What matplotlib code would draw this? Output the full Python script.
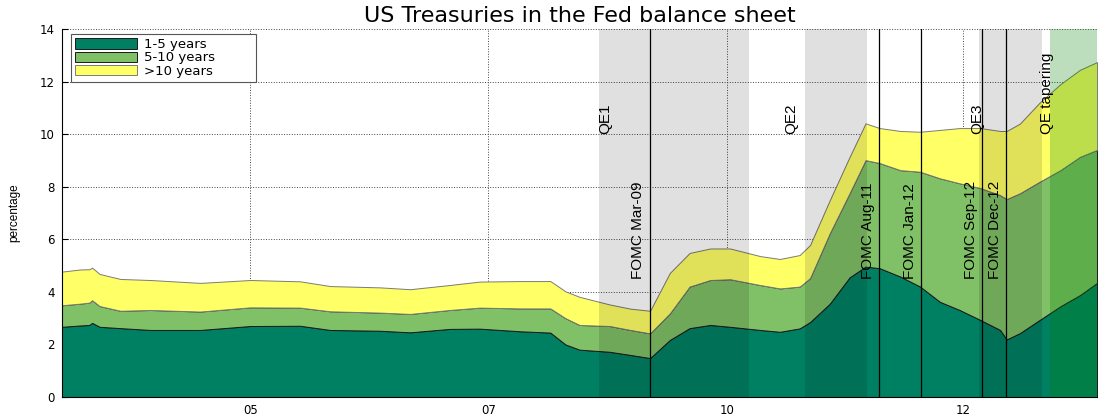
import numpy as np
from matplotlib import pyplot as plt

# holdings by maturity bucket, percent of the total
dates = [2003.00, 2003.19, 2003.29, 2003.32, 2003.40, 2003.62, 2003.94, 2004.47,
         2005.00, 2005.53, 2005.85, 2006.38, 2006.70, 2007.12, 2007.44, 2007.87,
         2008.19, 2008.35, 2008.50, 2008.82, 2009.04, 2009.25, 2009.46, 2009.67,
         2009.89, 2010.10, 2010.42, 2010.63, 2010.84, 2010.95, 2011.16, 2011.37,
         2011.54, 2011.69, 2011.91, 2012.12, 2012.33, 2012.54, 2012.76, 2012.97,
         2013.04, 2013.18, 2013.39, 2013.61, 2013.82, 2014.00]

years_1_5 = [2.67, 2.72, 2.74, 2.82, 2.67, 2.62, 2.55, 2.55,
             2.70, 2.71, 2.55, 2.52, 2.46, 2.59, 2.60, 2.50,
             2.45, 2.00, 1.80, 1.72, 1.60, 1.48, 2.17, 2.62,
             2.74, 2.67, 2.55, 2.48, 2.61, 2.85, 3.55, 4.55,
             4.96, 4.90, 4.58, 4.20, 3.62, 3.31, 2.93, 2.55,
             2.19, 2.43, 2.93, 3.45, 3.88, 4.34]

years_5_10 = [0.82, 0.83, 0.85, 0.86, 0.79, 0.66, 0.76, 0.70,
              0.71, 0.69, 0.71, 0.69, 0.70, 0.72, 0.80, 0.87,
              0.92, 1.00, 0.94, 0.98, 0.95, 0.94, 1.01, 1.58,
              1.71, 1.81, 1.71, 1.65, 1.59, 1.67, 2.68, 3.20,
              4.05, 4.00, 4.05, 4.37, 4.70, 4.82, 5.02, 5.13,
              5.34, 5.32, 5.26, 5.18, 5.26, 5.06]

years_10_plus = [1.28, 1.30, 1.27, 1.24, 1.22, 1.21, 1.14, 1.09,
                 1.04, 1.00, 0.96, 0.96, 0.94, 0.95, 0.99, 1.04,
                 1.04, 1.02, 1.07, 0.82, 0.81, 0.86, 1.54, 1.28,
                 1.20, 1.17, 1.10, 1.12, 1.20, 1.26, 1.26, 1.38,
                 1.40, 1.33, 1.49, 1.52, 1.84, 2.10, 2.28, 2.44,
                 2.59, 2.65, 3.01, 3.27, 3.31, 3.34]

series_names = ["1-5 years", "5-10 years", ">10 years"]
colors = ["#008062", "#80c066", "#ffff66"]

# purchase programmes (shaded) and FOMC guidance dates (lines)
qe_spans = [(2008.71, 2010.30), (2010.90, 2011.56), (2012.745, 2013.41)]
qe_names = ["QE1", "QE2", "QE3"]
qe_label_x = [2008.77, 2010.75, 2012.73]
taper_span = (2013.50, 2014.0)
fomc_dates = [2009.245, 2011.68, 2012.13, 2012.777, 2013.03]
fomc_names = ["FOMC Mar-09", "FOMC Aug-11", "FOMC Jan-12", "FOMC Sep-12", "FOMC Dec-12"]

tick_pos = [2005.0, 2007.53, 2010.07, 2012.58]
tick_names = ["05", "07", "10", "12"]

lab_font = "Liberation Sans"

fig = plt.figure(figsize=(10.99, 4.17), dpi=100)
ax = fig.add_axes([0.0564, 0.048, 0.9418, 0.8825])

polys = ax.stackplot(dates, years_1_5, years_5_10, years_10_plus,
                     colors=colors, labels=series_names, zorder=2)
edge_cols = ["#1a1a1a", "#1a1a1a", "#7a7a7a"]
for p, ec in zip(polys, edge_cols):
    p.set_edgecolor(ec)
    p.set_linewidth(0.7)

for a, b in qe_spans:
    ax.axvspan(a, b, color="k", alpha=0.12, lw=0, zorder=3)
ax.axvspan(taper_span[0], taper_span[1], color=(0, 0.5, 0), alpha=0.26, lw=0, zorder=3)

for d in fomc_dates:
    ax.axvline(d, color="k", lw=0.9, zorder=4)

for d, name in zip(fomc_dates, fomc_names):
    ax.annotate(name, (d, 4.5), xytext=(-3, 0), textcoords="offset points",
                rotation=90, ha="right", va="bottom", fontsize=11,
                family=lab_font, zorder=5)

for x, name in zip(qe_label_x, qe_names):
    ax.text(x, 10.0, name, rotation=90, ha="center", va="bottom",
            fontsize=11, family=lab_font, zorder=5)
ax.text(2013.47, 10.0, "QE tapering", rotation=90, ha="center", va="bottom",
        fontsize=11, family=lab_font, zorder=5)

ax.set_xlim(2003, 2014)
ax.set_ylim(0, 14)
ax.set_xticks(tick_pos)
ax.set_xticklabels(tick_names)
ax.set_yticks(np.arange(0, 15, 2))
ax.tick_params(direction="in", length=4, labelsize=8.5, pad=5)
ax.set_axisbelow(True)
ax.grid(True, linestyle=":", color="#444444", linewidth=0.7)
ax.spines["top"].set_visible(False)
ax.spines["right"].set_visible(False)

ax.set_ylabel("percentage", family=lab_font, fontsize=8.5, labelpad=14)
ax.set_title("US Treasuries in the Fed balance sheet", fontsize=16, pad=5)

leg = ax.legend(loc="upper left", bbox_to_anchor=(0.0087, 0.5, 0.179, 0.486),
                mode="expand", borderaxespad=0,
                fontsize=9.5, handlelength=4.7, handleheight=0.8, labelspacing=0.02,
                borderpad=0.3, handletextpad=0.5, fancybox=False, framealpha=1)
leg.get_frame().set_edgecolor("#555555")
leg.get_frame().set_linewidth(0.8)
leg.set_zorder(10)

plt.savefig("out.png", dpi=100)
